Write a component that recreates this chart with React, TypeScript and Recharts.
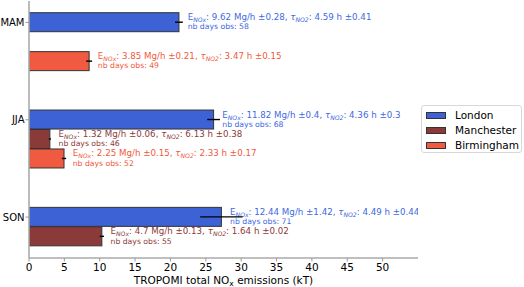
import React from 'react';
import { ComposedChart, Bar, XAxis, YAxis, ErrorBar } from 'recharts';

const seasons = ['MAM', 'JJA', 'SON'];
const cities = ['London', 'Manchester', 'Birmingham'];
const barColors = ['#3d62d6', '#8b3a3a', '#f05a40'];
const textColors = ['#4169e1', '#8b3a3a', '#f05a40'];

// total NOx emissions (kT) per season
const londonKt = [21.2, 26.1, 27.2];
const manchesterKt = [null, 2.95, 10.3];
const birminghamKt = [8.5, 4.95, null];
// error half-widths (kT)
const londonErrKt = [0.55, 0.9, 3.0];
const manchesterErrKt = [null, 0.15, 0.3];
const birminghamErrKt = [0.42, 0.3, null];

// annotation values
const londonRate = ['9.62', '11.82', '12.44'];
const londonRateErr = ['0.28', '0.4', '1.42'];
const londonTau = ['4.59', '4.36', '4.49'];
const londonTauErr = ['0.41', '0.3', '0.44'];
const londonDays = [58, 68, 71];

const manchesterRate = [null, '1.32', '4.7'];
const manchesterRateErr = [null, '0.06', '0.13'];
const manchesterTau = [null, '6.13', '1.64'];
const manchesterTauErr = [null, '0.38', '0.02'];
const manchesterDays = [null, 46, 55];

const birminghamRate = ['3.85', '2.25', null];
const birminghamRateErr = ['0.21', '0.15', null];
const birminghamTau = ['3.47', '2.33', null];
const birminghamTauErr = ['0.15', '0.17', null];
const birminghamDays = [49, 52, null];

const xTicks = [0, 5, 10, 15, 20, 25, 30, 35, 40, 45, 50];

const kt = [londonKt, manchesterKt, birminghamKt];
const errs = [londonErrKt, manchesterErrKt, birminghamErrKt];
const rates = [londonRate, manchesterRate, birminghamRate];
const rateErrs = [londonRateErr, manchesterRateErr, birminghamRateErr];
const taus = [londonTau, manchesterTau, birminghamTau];
const tauErrs = [londonTauErr, manchesterTauErr, birminghamTauErr];
const days = [londonDays, manchesterDays, birminghamDays];

const buildRows = () => {
  const rows: any[] = [];
  seasons.forEach((s, i) => {
    cities.forEach((c, j) => {
      rows.push({
        slot: j === 0 ? s : `${s}-${c}`,
        value: kt[j][i],
        err: errs[j][i],
        cityIdx: j,
        rate: rates[j][i],
        rateErr: rateErrs[j][i],
        tau: taus[j][i],
        tauErr: tauErrs[j][i],
        days: days[j][i],
      });
    });
    rows.push({ slot: `${s}-gap1`, value: null, err: null });
    rows.push({ slot: `${s}-gap2`, value: null, err: null });
  });
  while (rows.length && rows[rows.length - 1].value == null) rows.pop();
  return rows;
};
const rows = buildRows();

const FONT = 'DejaVu Sans, sans-serif';

const BarShape = (props: any) => {
  const { x, y, width, height, payload } = props;
  if (!payload || payload.value == null) return <g />;
  const tc = textColors[payload.cityIdx];
  const cy = y + height / 2;
  const tx = x + width + 8.7;
  return (
    <g>
      <rect x={x} y={y} width={width} height={height} fill={barColors[payload.cityIdx]} stroke="#333" strokeWidth={1} />
      <text x={tx} y={cy - 2} fill={tc} fontSize={8.7} fontFamily={FONT}>
        E
        <tspan fontSize={6.1} fontStyle="italic" dy={2}>NOx</tspan>
        <tspan dy={-2}>{`: ${payload.rate} Mg/h \u00b1${payload.rateErr}, `}</tspan>
        <tspan fontStyle="italic">τ</tspan>
        <tspan fontSize={6.1} fontStyle="italic" dy={2}>NO2</tspan>
        <tspan dy={-2}>{`: ${payload.tau} h \u00b1${payload.tauErr}`}</tspan>
      </text>
      <text x={tx} y={cy + 7.2} fill={tc} fontSize={7.7} fontFamily={FONT}>
        {`nb days obs: ${payload.days}`}
      </text>
    </g>
  );
};

const SeasonTick = (props: any) => {
  const { x, y, payload } = props;
  if (!seasons.includes(payload.value)) return <g />;
  return (
    <g>
      <line x1={x + 1} x2={x + 4.5} y1={y} y2={y} stroke="#999" strokeWidth={1} />
      <text x={x} y={y} dy="0.36em" textAnchor="end" fontSize={10} fontFamily={FONT} fill="#000">
        {payload.value}
      </text>
    </g>
  );
};

const XLabel = (props: any) => {
  const vb = props.viewBox || {};
  const cx = (vb.x || 0) + (vb.width || 0) / 2;
  return (
    <text x={cx} y={(vb.y || 0) + 25.5} textAnchor="middle" fontSize={10.5} fontFamily={FONT} fill="#000">
      TROPOMI total NO
      <tspan fontSize={7.5} dy={2}>x</tspan>
      <tspan dy={-2}> emissions (kT)</tspan>
    </text>
  );
};

const SPINE = '#aaaaaa';

export default function App() {
  return (
    <div style={{ position: 'absolute', left: 0, top: 0, width: 524, height: 287, background: '#fff' }}>
      <ComposedChart
        width={524}
        height={287}
        data={rows}
        layout="vertical"
        margin={{ top: 1, right: 106, left: 0, bottom: 0 }}
        barCategoryGap={0}
        barGap={0}
      >
        <XAxis
          type="number"
          domain={[0, 55]}
          ticks={xTicks}
          allowDataOverflow
          height={29}
          tickSize={3.5}
          tickMargin={2}
          tickLine={{ stroke: '#999' }}
          axisLine={{ stroke: SPINE, strokeWidth: 1.6 }}
          tick={{ fontSize: 10.5, fontFamily: FONT, fill: '#000' }}
          label={<XLabel />}
        />
        <XAxis
          xAxisId="top"
          orientation="top"
          type="number"
          domain={[0, 55]}
          height={0}
          tick={false}
          tickLine={false}
          axisLine={{ stroke: SPINE, strokeWidth: 1.6 }}
        />
        <YAxis
          type="category"
          dataKey="slot"
          width={29}
          interval={0}
          tickSize={3.5}
          tickMargin={1}
          tickLine={false}
          tick={<SeasonTick />}
          padding={{ top: 11.7, bottom: 11.7 }}
          axisLine={{ stroke: SPINE, strokeWidth: 1.6 }}
        />
        <YAxis
          yAxisId="right"
          orientation="right"
          type="number"
          width={0}
          tick={false}
          tickLine={false}
          axisLine={{ stroke: SPINE, strokeWidth: 1.6 }}
        />
        <Bar dataKey="value" shape={<BarShape />} isAnimationActive={false}>
          <ErrorBar dataKey="err" direction="x" width={0} stroke="#000" strokeWidth={1.4} />
        </Bar>
      </ComposedChart>
      <div
        style={{
          position: 'absolute',
          left: 421,
          top: 105,
          width: 99,
          height: 46,
          border: '1px solid #d8d8d8',
          borderRadius: 3,
          background: '#fff',
          fontFamily: FONT,
          fontSize: 10.5,
          boxSizing: 'content-box',
        }}
      >
        {cities.map((c, i) => (
          <div key={c} style={{ position: 'absolute', left: 4, top: 3 + i * 15, height: 12, display: 'flex', alignItems: 'center' }}>
            <div style={{ width: 20, height: 7, background: barColors[i], border: '1px solid #333', boxSizing: 'border-box' }} />
            <span style={{ marginLeft: 9, color: '#000', lineHeight: '12px' }}>{c}</span>
          </div>
        ))}
      </div>
    </div>
  );
}
